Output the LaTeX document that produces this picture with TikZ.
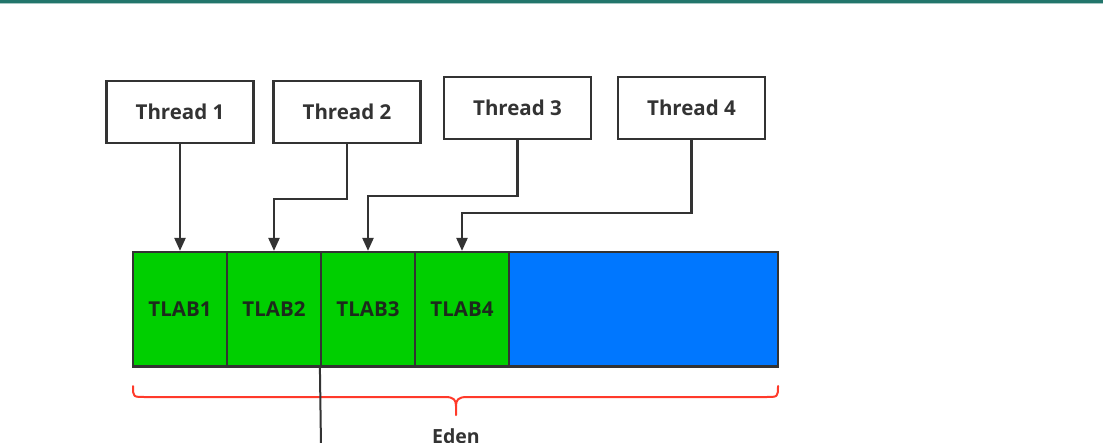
\documentclass[tikz,border=0pt]{standalone}
\usepackage{fontspec}
\setmainfont{Open Sans}
\usetikzlibrary{arrows.meta}
\definecolor{teal1}{HTML}{22756B}
\definecolor{tgreen}{HTML}{00CF00}
\definecolor{tblue}{HTML}{0077FF}
\definecolor{bord}{HTML}{333333}
\definecolor{bred}{HTML}{FF3A2A}
\definecolor{txt}{HTML}{333333}
\definecolor{ltxt}{HTML}{1C2A1C}
\tikzset{
  threadbox/.style={draw=bord, line width=2.2pt, fill=white, minimum width=147pt, minimum height=62pt, inner sep=0pt,
    font=\bfseries\fontsize{20.5}{24}\selectfont, text=txt},
  tlabbox/.style={draw=bord, line width=2.2pt, fill=tgreen, minimum width=94pt, minimum height=114.5pt, inner sep=0pt,
    font=\bfseries\fontsize{20.5}{24}\selectfont, text=ltxt},
  edenbox/.style={draw=bord, line width=2.2pt, fill=tblue, minimum width=269pt, minimum height=114.5pt, inner sep=0pt},
  arr/.style={draw=bord, line width=2.2pt, -{Triangle[length=13pt,width=11pt]}},
  bracestyle/.style={draw=bred, line width=2pt, line cap=round, line join=round},
}
\begin{document}
\begin{tikzpicture}[x=1pt,y=-1pt]
\useasboundingbox (0,0) rectangle (1103,442);
\fill[white] (0,0) rectangle (1103,442);
\fill[teal1] (0,0) rectangle (1103,2.5);
\fill[teal1!40] (0,2.5) rectangle (1103,3.5);

\node[threadbox] (t1) at (180,112) {Thread 1};
\node[threadbox] (t2) at (347,112) {Thread 2};
\node[threadbox] (t3) at (517.5,108) {Thread 3};
\node[threadbox] (t4) at (691.5,108) {Thread 4};

\node[tlabbox] (l1) at (180,309.25) {TLAB1};
\node[tlabbox] (l2) at (274,309.25) {TLAB2};
\node[tlabbox] (l3) at (368,309.25) {TLAB3};
\node[tlabbox] (l4) at (462,309.25) {TLAB4};
\node[edenbox] (eb) at (643.5,309.25) {};

\draw[arr] (t1.south) -- (l1.north);
\draw[arr] (t2.south) -- ++(0,55) -| (l2.north);
\draw[arr] (t3.south) -- ++(0,55.5) -| (l3.north);
\draw[arr] (t4.south) -- ++(0,72.5) -| (l4.north);

\coordinate (bl) at (133,386);
\coordinate (br) at (778,386);
\coordinate (btip) at (456,415);
\draw[bracestyle] (bl) .. controls (133,397) and (133,397) .. (145,397) -- (445,397)
  .. controls (454,397) and (456,400) .. (456,406) -- (btip);
\draw[bracestyle] (456,406) .. controls (456,400) and (458,397) .. (467,397) -- (766,397)
  .. controls (778,397) and (778,397) .. (br);

\coordinate (vend) at (321,446);
\draw[draw=bord, line width=2pt] (l3.south west) -- (vend);

\node[anchor=base, inner sep=0pt, font=\bfseries\fontsize{19.5}{22}\selectfont, text=txt] (eden) at (456,443) {Eden};
\end{tikzpicture}
\end{document}
